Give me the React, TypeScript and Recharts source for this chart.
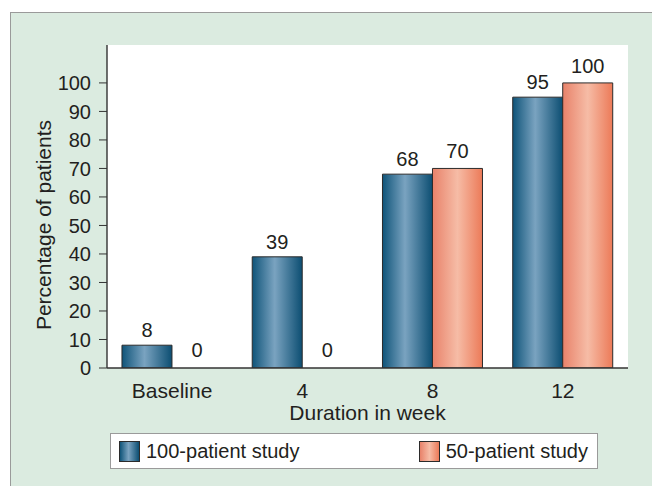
import { Bar, BarChart, CartesianGrid, LabelList, Label, Rectangle, XAxis, YAxis } from "recharts";

const categories = ["Baseline", "4", "8", "12"];
const study100 = [8, 39, 68, 95];
const study50 = [0, 0, 70, 100];
const seriesNames = ["100-patient study", "50-patient study"];
const yTicks = [0, 10, 20, 30, 40, 50, 60, 70, 80, 90, 100];

const data = categories.map((c, i) => ({
  name: c,
  a: study100[i],
  b: study50[i],
}));

const FONT = "'Liberation Sans', Arial, Helvetica, sans-serif";
const INK = "#231f20";

function YTitle() {
  return (
    <text
      x={43}
      y={225}
      transform="rotate(-90 43 225)"
      textAnchor="middle"
      dominantBaseline="central"
      fontSize={21}
      fill={INK}
      fontFamily={FONT}
    >
      Percentage of patients
    </text>
  );
}

// zero values keep a label but draw no rectangle
const barShape = (key: "a" | "b") => (p: any) =>
  p.payload && p.payload[key] === 0 ? <g /> : <Rectangle {...p} />;

const labelStyle = { fontSize: 20, fill: INK, fontFamily: FONT };

export default function App() {
  return (
    <div style={{ position: "absolute", left: 0, top: 0, width: 652, height: 486, background: "#fff", fontFamily: FONT }}>
      <div
        style={{
          position: "absolute",
          left: 10,
          top: 12,
          right: 0,
          bottom: 0,
          background: "#dbebe0",
          borderTop: "1px solid #9a9a9a",
          borderLeft: "1px solid #9a9a9a",
        }}
      />
      <div style={{ position: "absolute", left: 0, top: 0 }}>
        <BarChart
          width={652}
          height={486}
          data={data}
          margin={{ top: 45, right: 24, left: 47, bottom: 88 }}
          barCategoryGap="11.5%"
          barGap={0}
        >
          <defs>
            <linearGradient id="gBlue" x1="0" y1="0" x2="1" y2="0">
              <stop offset="0" stopColor="#0f5479" />
              <stop offset="0.45" stopColor="#7aa3c0" />
              <stop offset="1" stopColor="#0c4e72" />
            </linearGradient>
            <linearGradient id="gSalmon" x1="0" y1="0" x2="1" y2="0">
              <stop offset="0" stopColor="#e8826a" />
              <stop offset="0.5" stopColor="#f6bca6" />
              <stop offset="1" stopColor="#ec7a58" />
            </linearGradient>
          </defs>
          <CartesianGrid fill="#ffffff" horizontal={false} vertical={false} />
          <XAxis
            dataKey="name"
            height={30}
            tickLine={false}
            tickSize={0}
            tickMargin={15}
            axisLine={{ stroke: "#333", strokeWidth: 1.4 }}
            tick={{ fontSize: 21, fill: INK, fontFamily: FONT }}
          >
            <Label
              value="Duration in week"
              position="bottom"
              offset={7}
              style={{ fontSize: 21, fill: INK, fontFamily: FONT }}
            />
          </XAxis>
          <YAxis
            width={60}
            domain={[0, 113.3]}
            ticks={yTicks}
            interval={0}
            tickSize={8}
            tickMargin={8}
            allowDataOverflow
            axisLine={{ stroke: "#333", strokeWidth: 1.4 }}
            tickLine={{ stroke: "#333" }}
            tick={{ fontSize: 20, fill: INK, fontFamily: FONT }}
          >
            <Label content={<YTitle />} />
          </YAxis>
          <Bar
            dataKey="a"
            name={seriesNames[0]}
            fill="url(#gBlue)"
            stroke="#2b2b2b"
            strokeWidth={1}
            minPointSize={1}
            shape={barShape("a")}
            isAnimationActive={false}
          >
            <LabelList dataKey="a" position="top" offset={8} style={labelStyle} />
          </Bar>
          <Bar
            dataKey="b"
            name={seriesNames[1]}
            fill="url(#gSalmon)"
            stroke="#2b2b2b"
            strokeWidth={1}
            minPointSize={1}
            shape={barShape("b")}
            isAnimationActive={false}
          >
            <LabelList dataKey="b" position="top" offset={10} style={labelStyle} />
          </Bar>
        </BarChart>
      </div>
      <div
        style={{
          position: "absolute",
          left: 110,
          top: 433,
          width: 488,
          height: 36,
          background: "#fff",
          border: "1px solid #9a9a9a",
          display: "flex",
          alignItems: "center",
          justifyContent: "space-between",
          padding: "0 9px 0 8px",
          boxSizing: "border-box",
          fontSize: 20,
          color: INK,
        }}
      >
        {seriesNames.map((n, i) => (
          <div key={n} style={{ display: "flex", alignItems: "center" }}>
            <span
              style={{
                display: "inline-block",
                width: 19,
                height: 19,
                border: "1px solid #2b2b2b",
                background:
                  i === 0
                    ? "linear-gradient(90deg,#0f5479,#7aa3c0 45%,#0c4e72)"
                    : "linear-gradient(90deg,#e8826a,#f6bca6 50%,#ec7a58)",
                marginRight: 6,
              }}
            />
            <span>{n}</span>
          </div>
        ))}
      </div>
    </div>
  );
}
